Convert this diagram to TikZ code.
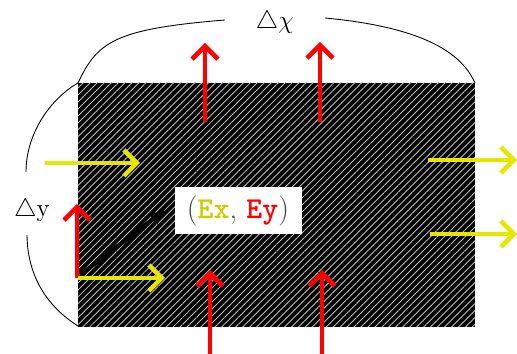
\documentclass[tikz,border=0pt]{standalone}
\usepackage{amsmath,amssymb}
\usetikzlibrary{arrows.meta,patterns.meta}
\definecolor{fldx}{RGB}{230,230,0}
\definecolor{fldxtxt}{RGB}{204,204,0}
\definecolor{fldy}{RGB}{255,0,0}

\begin{document}
\begin{tikzpicture}[
    >={Straight Barb[length=2.6mm,width=5.2mm]},
    Fx/.style={->, draw=fldx, line width=2.6pt},
    Fy/.style={->, draw=fldy, line width=2.6pt},
    brace/.style={draw=black, line width=0.5pt},
    tag/.style={font=\Large, inner sep=1pt},
    lbl/.style={fill=white, minimum width=2.54cm, minimum height=0.94cm, inner sep=0pt, font=\LARGE},
  ]
  \useasboundingbox (0,0) rectangle (10.34,7.08);

  % the cell
  \fill[black] (1.56,0.54) rectangle (9.5,5.42);
  \fill[pattern={Lines[angle=45, distance=2.8pt, line width=0.5pt]}, pattern color=white!75!black] (1.56,0.54) rectangle (9.5,5.42);
  \coordinate (TL) at (1.56,5.42);
  \coordinate (TR) at (9.5,5.42);
  \coordinate (BL) at (1.56,0.56);

  % the braces
  \node[tag] (dx) at (5.5,6.64) {$\triangle\chi$};
  \node[tag] (dy) at (0.64,2.88) {$\triangle\mathrm{y}$};
  \draw[brace] (TL) .. controls (1.95,6.25) and (2.3,6.5) .. (4.5,6.68);
  \draw[brace] (6.5,6.72) .. controls (8.3,6.55) and (9.2,6.1) .. (TR);
  \draw[brace] (TL) .. controls (1.0,5.1) and (0.52,4.4) .. (0.52,3.64);
  \draw[brace] (0.54,2.38) .. controls (0.55,1.4) and (1.1,0.85) .. (BL);

  % the corner
  \coordinate (O) at (1.56,1.52);
  \coordinate (Ot) at (1.54,3.0);
  \coordinate (Or) at (3.3,1.52);
  \coordinate (Od) at (3.3,2.88);
  \draw[-{Latex[length=3mm,width=3mm]}, line width=2.4pt] (1.6,1.58) -- (Od);
  \draw[Fy] (1.54,1.52) -- (Ot);
  \draw[Fx] (O) -- (Or);

  % Ex through the cell
  \coordinate (xa) at (0.9,3.82);  \coordinate (xb) at (2.8,3.82);
  \coordinate (xc) at (8.56,3.88); \coordinate (xd) at (10.34,3.88);
  \coordinate (xe) at (8.6,2.4);   \coordinate (xf) at (10.34,2.4);
  \draw[Fx] (xa) -- (xb);
  \draw[Fx] (xc) -- (xd);
  \draw[Fx] (xe) -- (xf);

  % Ey through the cell
  \coordinate (ya) at (4.1,4.64);  \coordinate (yb) at (4.1,6.22);
  \coordinate (yc) at (6.4,4.64);  \coordinate (yd) at (6.4,6.24);
  \coordinate (ye) at (4.2,0.0);   \coordinate (yf) at (4.2,1.68);
  \coordinate (yg) at (6.44,0.0);  \coordinate (yh) at (6.44,1.68);
  \draw[Fy] (ya) -- (yb);
  \draw[Fy] (yc) -- (yd);
  \draw[Fy] (ye) -- (yf);
  \draw[Fy] (yg) -- (yh);

  \node[lbl] (E) at (4.76,2.86) {\textcolor{black!75}{(}\texttt{\textbf{\textcolor{fldxtxt}{Ex}}}\textcolor{black!75}{,}\ \texttt{\textbf{\textcolor{fldy}{Ey}}}\textcolor{black!75}{)}};

\end{tikzpicture}
\end{document}
